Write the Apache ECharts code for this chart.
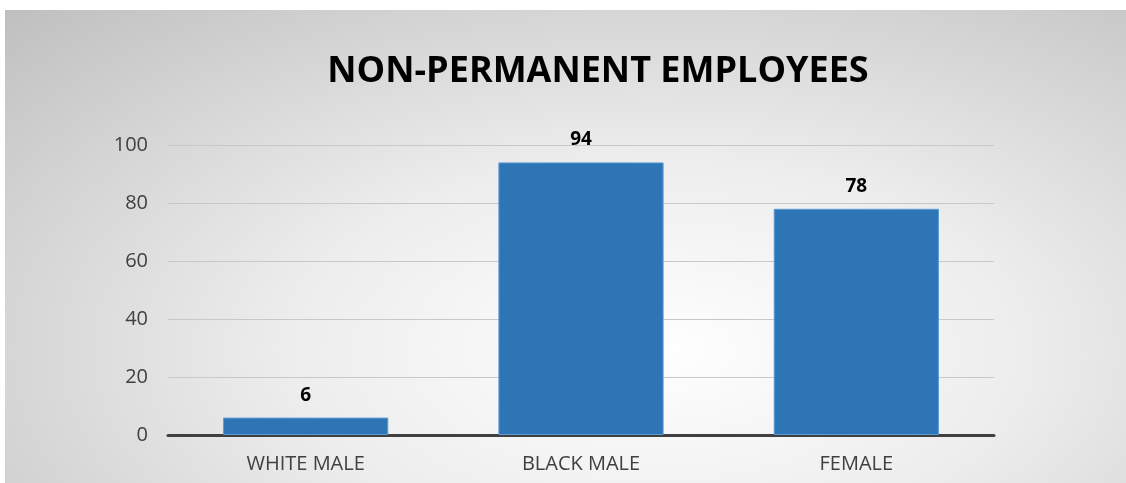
<!DOCTYPE html>
<html>
<head>
<meta charset="utf-8">
<script src="https://cdn.jsdelivr.net/npm/echarts@6/dist/echarts.min.js"></script>
<style>
  html, body { margin: 0; padding: 0; background: #fff; }
  /* fond dégradé type Excel */
  #chart {
    position: absolute; left: 5px; top: 10px; width: 1121px; height: 473px;
    background: radial-gradient(ellipse farthest-corner at 58% 72%, #ffffff 0%, #ededed 40%, #bfbfbf 100%);
  }
</style>
</head>
<body>
<div id="chart"></div>
<script>
// Données du graphique
const categories = ["WHITE MALE", "BLACK MALE", "FEMALE"];
const employes = [6, 94, 78];
const yTicks = [0, 20, 40, 60, 80, 100];

const chart = echarts.init(document.getElementById("chart"));

chart.setOption({
  backgroundColor: "transparent",
  title: {
    text: "NON-PERMANENT EMPLOYEES",
    left: 588,
    top: 39,
    textAlign: "center",
    textStyle: {
      fontFamily: "Open Sans",
      fontWeight: "bold",
      fontSize: 36,
      color: "#000"
    }
  },
  grid: { left: 163, right: 132, top: 135, bottom: 48 },
  xAxis: {
    type: "category",
    data: categories,
    axisTick: { show: false },
    axisLine: { lineStyle: { color: "#404040", width: 3 } },
    axisLabel: {
      margin: 19,
      fontFamily: "Open Sans",
      fontSize: 20,
      color: "#404040"
    }
  },
  yAxis: {
    type: "value",
    min: yTicks[0],
    max: yTicks[yTicks.length - 1],
    interval: yTicks[1] - yTicks[0],
    axisLine: { show: false },
    axisTick: { show: false },
    splitLine: { lineStyle: { color: "#c8c8c8", width: 1 } },
    axisLabel: {
      margin: 20,
      fontFamily: "Open Sans",
      fontSize: 20,
      color: "#404040"
    }
  },
  series: [{
    type: "bar",
    data: employes,
    barWidth: "60%",
    itemStyle: { color: "#2e75b6", borderColor: "#5b9bd5", borderWidth: 1 },
    label: {
      show: true,
      position: "top",
      distance: 13,
      fontFamily: "Open Sans",
      fontWeight: "bold",
      fontSize: 19,
      color: "#000"
    }
  }]
});
</script>
</body>
</html>
